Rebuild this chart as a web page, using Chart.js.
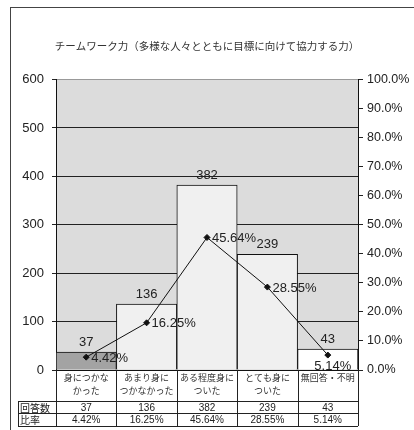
<!DOCTYPE html>
<html><head><meta charset="utf-8">
<script src="https://cdn.jsdelivr.net/npm/chart.js@4/dist/chart.umd.min.js"></script>
<style>
html,body{margin:0;padding:0;background:#fff;overflow:hidden;}
#wrap{position:relative;width:414px;height:430px;}
#frame{position:absolute;left:10px;top:7px;width:500px;height:500px;border:1.5px solid #444;box-sizing:border-box;}
canvas{position:absolute;left:0;top:0;}
</style></head><body>
<div id="wrap"><div id="frame"></div><canvas id="c" width="414" height="430"></canvas></div>
<script>
const titleText = 'チームワーク力（多様な人々とともに目標に向けて協力する力）';
const categories = [['身につかな','かった'],['あまり身に','つかなかった'],['ある程度身に','ついた'],['とても身に','ついた'],['無回答・不明']];
const counts = [37, 136, 382, 239, 43];
const rates = [4.42, 16.25, 45.64, 28.55, 5.14];
const rowHeaders = ['回答数', '比率'];
const barColors = ['#a3a3a3', '#f0f0f0', '#f0f0f0', '#f0f0f0', '#ffffff'];

const FONT = "'Liberation Sans', 'Noto Sans CJK JP', sans-serif";
const CJK = "'Noto Sans CJK JP', 'Liberation Sans', sans-serif";

const bgPlugin = {
  id: 'bg',
  beforeDraw(chart) {
    const {ctx, chartArea: a} = chart;
    ctx.save(); ctx.fillStyle = '#dcdcdc';
    ctx.fillRect(a.left, a.top, a.right - a.left, a.bottom - a.top);
    ctx.restore();
  }
};

const labelPlugin = {
  id: 'labels',
  afterDatasetsDraw(chart) {
    const ctx = chart.ctx, a = chart.chartArea;
    ctx.save();
    ctx.font = '13px ' + FONT; ctx.fillStyle = '#222';
    const bars = chart.getDatasetMeta(0).data;
    ctx.textAlign = 'center'; ctx.textBaseline = 'bottom';
    bars.forEach((b, i) => ctx.fillText(String(counts[i]), b.x, b.y - 3));
    const pts = chart.getDatasetMeta(1).data;
    pts.forEach((p, i) => {
      const t = rates[i].toFixed(2) + '%';
      const w = ctx.measureText(t).width;
      if (p.x + 5 + w > a.right) {
        ctx.textAlign = 'center'; ctx.textBaseline = 'middle';
        ctx.fillText(t, p.x + 5, p.y + 11);
      } else {
        ctx.textAlign = 'left'; ctx.textBaseline = 'middle';
        ctx.fillText(t, p.x + 5, p.y + 1);
      }
    });
    ctx.restore();
  }
};

const tablePlugin = {
  id: 'table',
  afterDraw(chart) {
    const ctx = chart.ctx, a = chart.chartArea, xs = chart.scales.x;
    const n = categories.length;
    const half = (a.right - a.left) / n / 2;
    const y0 = a.bottom, y1 = y0 + 31, y2 = y1 + 12, y3 = y2 + 13;
    const hx = 18;
    ctx.save();
    ctx.strokeStyle = '#222'; ctx.lineWidth = 1;
    ctx.beginPath();
    for (let i = 0; i <= n; i++) {
      const x = Math.round(i < n ? xs.getPixelForValue(i) - half : xs.getPixelForValue(n - 1) + half) + 0.5;
      ctx.moveTo(x, y0); ctx.lineTo(x, y3);
    }
    [y1, y2, y3].forEach(y => { ctx.moveTo(hx, Math.round(y) + 0.5); ctx.lineTo(a.right, Math.round(y) + 0.5); });
    ctx.moveTo(hx + 0.5, y1); ctx.lineTo(hx + 0.5, y3);
    ctx.stroke();
    ctx.fillStyle = '#222';
    ctx.font = '10px ' + CJK; ctx.textBaseline = 'middle'; ctx.textAlign = 'left';
    ctx.fillText(rowHeaders[0], hx + 2, (y1 + y2) / 2 + 1);
    ctx.fillText(rowHeaders[1], hx + 2, (y2 + y3) / 2 + 1);
    ctx.font = '10px ' + FONT; ctx.textAlign = 'center';
    for (let i = 0; i < n; i++) {
      const cx = xs.getPixelForValue(i);
      ctx.fillText(String(counts[i]), cx, (y1 + y2) / 2 + 1);
      ctx.fillText(rates[i].toFixed(2) + '%', cx, (y2 + y3) / 2 + 1);
    }
    ctx.restore();
  }
};

new Chart(document.getElementById('c'), {
  data: {
    labels: categories,
    datasets: [
      { type: 'bar', data: counts, backgroundColor: barColors, borderColor: '#111', borderWidth: 1,
        barPercentage: 1, categoryPercentage: 1, yAxisID: 'y', order: 2 },
      { type: 'line', data: rates, yAxisID: 'y1', borderColor: '#111', borderWidth: 1,
        pointStyle: 'rectRot', pointRadius: 3, pointBackgroundColor: '#111', pointBorderColor: '#111',
        tension: 0, order: 1 }
    ]
  },
  options: {
    responsive: false, animation: false,
    layout: { padding: { left: 0, right: 0, top: 0, bottom: 0 } },
    plugins: {
      legend: { display: false }, tooltip: { enabled: false },
      title: { display: true, text: titleText, color: '#333', font: { family: CJK, size: 10.5, weight: 'normal' },
        padding: { top: 40, bottom: 27 } }
    },
    scales: {
      x: {
        grid: { display: false, drawTicks: false }, border: { display: true, color: '#111' },
        ticks: { color: '#333', font: { family: CJK, size: 9, lineHeight: '13px' }, padding: 1, maxRotation: 0, autoSkip: false },
        afterFit(s) { s.height = 60; }
      },
      y: {
        position: 'left', min: 0, max: 600,
        ticks: { stepSize: 100, color: '#222', font: { family: FONT, size: 13 }, padding: 8 },
        grid: { color: ctx => ctx.tick && ctx.tick.value === 600 ? '#999' : '#222', tickLength: 4, tickColor: '#222' },
        border: { display: true, color: '#111' },
        afterFit(s) { s.width = 56; }
      },
      y1: {
        position: 'right', min: 0, max: 100,
        ticks: { stepSize: 10, color: '#222', font: { family: FONT, size: 12.5 }, padding: 4,
          callback: v => v.toFixed(1) + '%' },
        grid: { drawOnChartArea: false, tickLength: 5, tickColor: '#222' },
        border: { display: true, color: '#111' },
        afterFit(s) { s.width = 56; }
      }
    }
  },
  plugins: [bgPlugin, labelPlugin, tablePlugin]
});
</script></body></html>
